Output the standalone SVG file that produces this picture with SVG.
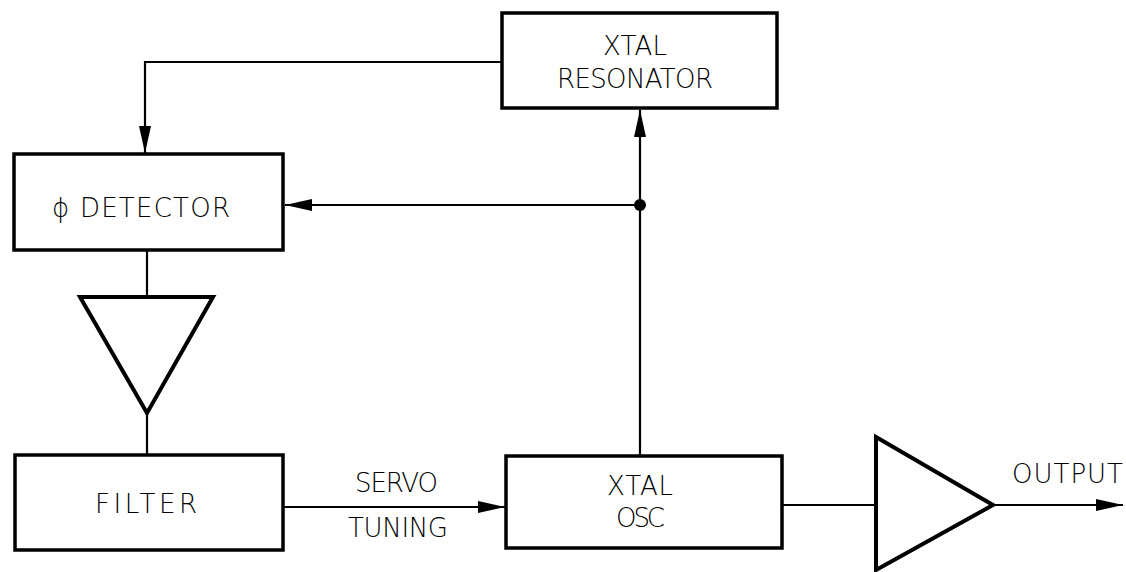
<svg xmlns="http://www.w3.org/2000/svg" width="1126" height="572" viewBox="0 0 1126 572">
<style>
.box{fill:#fff;stroke:#000;stroke-width:3.5}
.amp{fill:#fff;stroke:#000;stroke-width:4;stroke-linejoin:miter}
.wire{fill:none;stroke:#000;stroke-width:2.2}
.lbl{font-family:"DejaVu Sans","Liberation Sans",sans-serif;font-stretch:condensed;font-weight:300;font-size:26px;fill:#000}
</style>
<defs>
<marker id="arr" markerUnits="userSpaceOnUse" markerWidth="28" markerHeight="14" viewBox="0 0 28 14" refX="27" refY="7" orient="auto">
<path d="M0,1 L27,7 L0,13 Z" fill="#000"/>
</marker>
</defs>
<rect width="1126" height="572" fill="#fff"/>
<g id="connectors">
<path class="wire" d="M502,62 H145 V153" marker-end="url(#arr)"/>
<path class="wire" d="M640,205 H285" marker-end="url(#arr)"/>
<path class="wire" d="M640,456 V110" marker-end="url(#arr)"/>
<circle cx="640" cy="205" r="6" fill="#000"/>
<path class="wire" d="M147,250 V297"/>
<path class="wire" d="M147,413 V455"/>
<path class="wire" d="M283,507 H505" marker-end="url(#arr)"/>
<path class="wire" d="M782,505 H876"/>
<path class="wire" d="M993,505 H1123" marker-end="url(#arr)"/>
</g>
<g id="resonator">
<rect class="box" x="502" y="13" width="275" height="95"/>
<text class="lbl" x="603" y="55" textLength="64" lengthAdjust="spacing">XTAL</text>
<text class="lbl" x="557" y="88" textLength="156" lengthAdjust="spacing">RESONATOR</text>
</g>
<g id="detector">
<rect class="box" x="14" y="154" width="269" height="96"/>
<text class="lbl" x="52" y="217" textLength="178" lengthAdjust="spacing">ϕ DETECTOR</text>
</g>
<g id="amp1">
<polygon class="amp" points="80,297 213,297 147,413"/>
</g>
<g id="filter">
<rect class="box" x="15" y="455" width="268" height="95"/>
<text class="lbl" x="95" y="513" textLength="102" lengthAdjust="spacing">FILTER</text>
</g>
<g id="servo-label">
<text class="lbl" x="355" y="492" textLength="83" lengthAdjust="spacing">SERVO</text>
<text class="lbl" x="348" y="537" textLength="100" lengthAdjust="spacing">TUNING</text>
</g>
<g id="oscillator">
<rect class="box" x="506" y="456" width="276" height="92"/>
<text class="lbl" x="607" y="495" textLength="66" lengthAdjust="spacing">XTAL</text>
<text class="lbl" x="616" y="527" textLength="49" lengthAdjust="spacing">OSC</text>
</g>
<g id="amp2">
<polygon class="amp" points="876,437 876,570 993,505"/>
</g>
<g id="output-label">
<text class="lbl" x="1012" y="483" textLength="111" lengthAdjust="spacing">OUTPUT</text>
</g>
</svg>
